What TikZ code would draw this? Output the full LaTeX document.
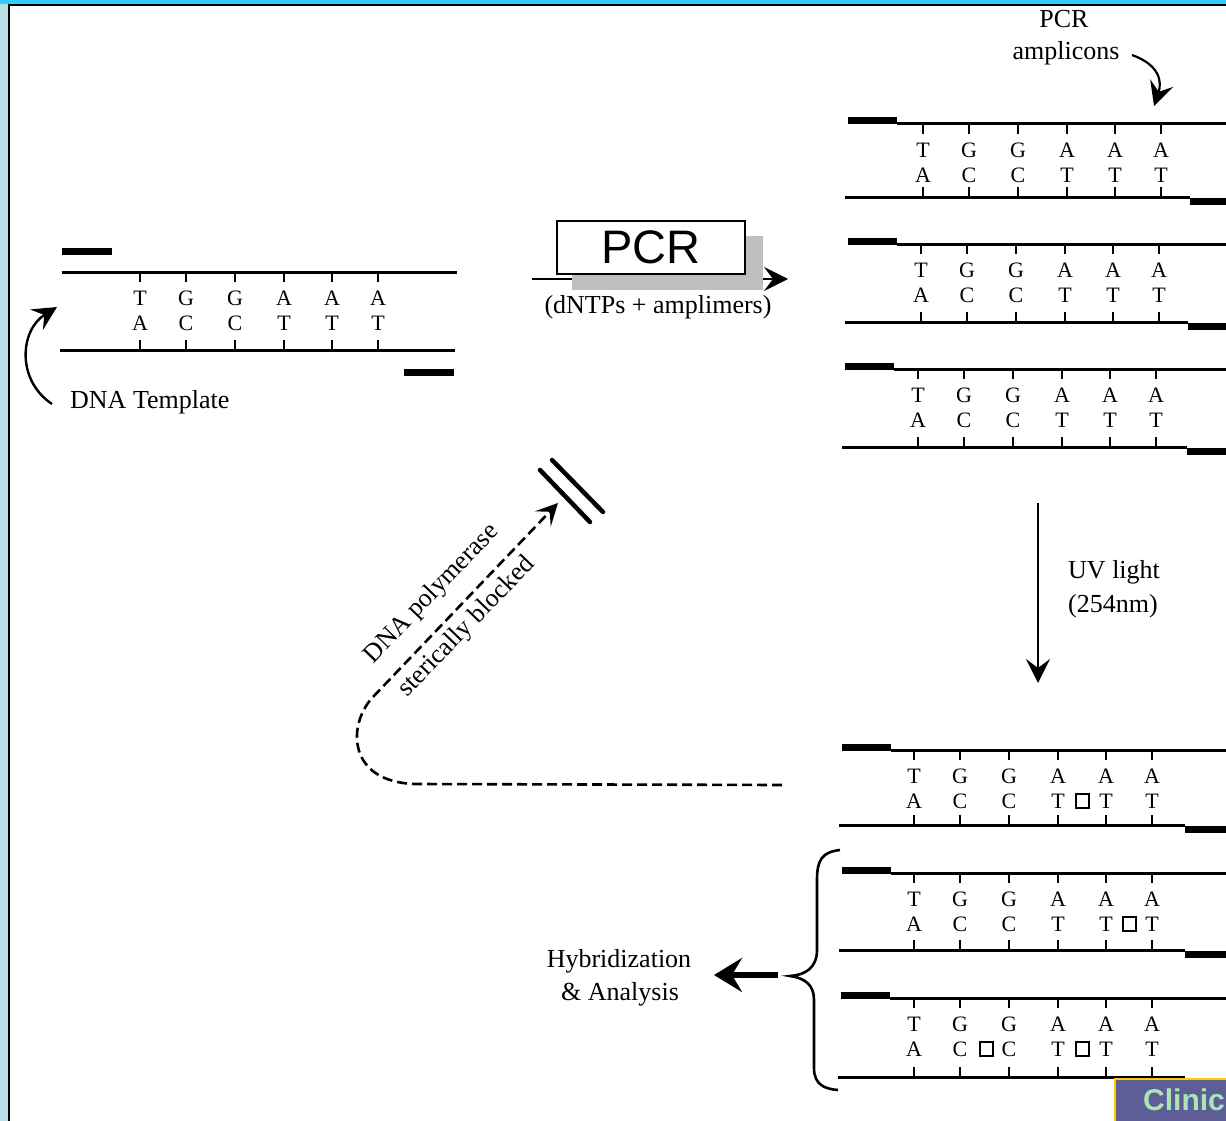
\documentclass[tikz,border=0pt]{standalone}
\usepackage{fontspec}
\setmainfont{Liberation Serif}
\setsansfont{Liberation Sans}
\usetikzlibrary{arrows.meta}
\definecolor{topcyan}{RGB}{51,204,255}
\definecolor{sideblue}{RGB}{184,224,230}
\definecolor{clinicbg}{RGB}{94,94,150}
\definecolor{clinicfg}{RGB}{170,230,180}
\definecolor{clinicedge}{RGB}{255,200,0}
\newcommand\bases[4]{%
  \foreach \dx/\tl/\bl [count=\i] in {0/T/A,46/G/C,95/G/C,144/A/T,192/A/T,238/A/T}{%
    \draw[basetick] (#2+\dx,#3) -- ++(0,10);
    \draw[basetick] (#2+\dx,#4) -- ++(0,-10);
    \node[baseletter] (#1t\i) at (#2+\dx,#3+26) {\tl};
    \node[baseletter] (#1b\i) at (#2+\dx,#3+51) {\bl};
  }%
}
\newcommand\amplicon[6]{%
  \draw[primer] (#2,#3-3) -- ++(49,0);
  \draw[strandline] (#2+49,#3) -- (1230,#3);
  \draw[strandline] (#2-3,#4) -- (#6,#4);
  \draw[primer] (#6,#4+4) -- (1230,#4+4);
  \bases{#1}{#5}{#3}{#4}%
}
\begin{document}
\begin{tikzpicture}[x=1pt,y=-1pt,
  strandline/.style={line width=3pt},
  primer/.style={line width=7pt},
  basetick/.style={line width=2pt},
  baseletter/.style={font=\fontsize{22}{22}\selectfont, inner sep=0pt, text height=15pt, text depth=0pt},
  lbl/.style={font=\fontsize{26}{30}\selectfont, inner sep=0pt},
  mutsq/.style={draw, line width=2pt, minimum width=13pt, minimum height=14pt, inner sep=0pt},
  arr/.style={line width=2.2pt, -{Stealth[length=24pt,width=24pt,inset=9pt]}},
]
\clip (0,0) rectangle (1226,1121);
% frame
\fill[white] (0,0) rectangle (1226,1121);
\fill[sideblue] (0,0) rectangle (8,1121);
\fill[topcyan] (0,0) rectangle (1226,4);
\fill[black] (8,4) rectangle (1226,6.5);
\fill[black] (7.5,4) rectangle (10,1121);

% DNA template
\draw[primer] (62,251) -- (112,251);
\draw[strandline] (62,272) -- (457,272);
\draw[strandline] (60,350) -- (455,350);
\draw[primer] (404,372) -- (454,372);
\bases{tp}{140}{272}{350}
\node[lbl, anchor=base west] (tmpl) at (70,408) {DNA Template};
\coordinate (tmA) at (52,404);
\coordinate (tmB) at (57,307);
\draw[arr, line width=2.4pt] (tmA) .. controls (16,380) and (20,330) .. (tmB);

% PCR step
\coordinate (pcrA) at (532,279);
\coordinate (pcrB) at (788,279);
\draw[arr] (pcrA) -- (pcrB);
\fill[gray!50] (572,236) rectangle (763,290);
\node[draw, line width=1.8pt, fill=white, minimum width=188pt, minimum height=53pt, inner sep=0pt,
  font=\sffamily\fontsize{47}{47}\selectfont] (pcr) at (651,247.5) {PCR};
\node[lbl, anchor=base] (dntp) at (658,313) {(dNTPs + amplimers)};

% amplicons
\node[lbl, anchor=base] (amp1) at (1064,28) {PCR};
\node[lbl, anchor=base] (amp2) at (1066,60) {amplicons};
\coordinate (ampA) at (1132,55);
\coordinate (ampB) at (1154,106);
\draw[arr] (ampA) .. controls (1160,65) and (1162,82) .. (ampB);
\amplicon{a1}{848}{124}{197}{923}{1190}
\amplicon{a2}{848}{244}{322}{921}{1188}
\amplicon{a3}{845}{369}{447}{918}{1187}

% UV
\coordinate (uvA) at (1038,503);
\coordinate (uvB) at (1038,683);
\draw[arr] (uvA) -- (uvB);
\node[lbl, anchor=base west] (uv1) at (1068,578) {UV light};
\node[lbl, anchor=base west] (uv2) at (1068,612) {(254nm)};

% damaged amplicons
\amplicon{u1}{842}{750}{825}{914}{1185}
\amplicon{u2}{842}{873}{950}{914}{1185}
\amplicon{u3}{841}{998}{1077}{914}{1185}
\node[mutsq] (sq1) at (1082,801) {};
\node[mutsq] (sq2) at (1129,924) {};
\node[mutsq] (sq3) at (986,1049) {};
\node[mutsq] (sq4) at (1082,1049) {};

% dashed blocked path
\coordinate (dsA) at (782,785);
\coordinate (dsB) at (415,784);
\coordinate (dsC) at (372,698);
\coordinate (dsD) at (558,503);
\draw[line width=2.6pt, dash pattern=on 10pt off 5pt, -{Stealth[length=22pt,width=22pt,inset=10pt]}]
  (dsA) -- (dsB) .. controls (348,782) and (347,726) .. (dsC) -- (dsD);
\coordinate (sl1a) at (540,470);
\coordinate (sl1b) at (590,522);
\coordinate (sl2a) at (552,460);
\coordinate (sl2b) at (603,512);
\draw[line width=4.5pt, line cap=round] (sl1a) -- (sl1b);
\draw[line width=4.5pt, line cap=round] (sl2a) -- (sl2b);
\node[lbl, rotate=46] (pol1) at (432,594) {DNA polymerase};
\node[lbl, rotate=46] (pol2) at (467,627) {sterically blocked};

% brace and hybridization
\draw[line width=2.6pt] (840,850) .. controls (822,852) and (817,860) .. (817,880) -- (817,950)
  .. controls (817,968) and (805,975) .. (790,976)
  .. controls (805,978) and (814,985) .. (814,1000) -- (814,1068)
  .. controls (814,1085) and (825,1089) .. (838,1090);
\coordinate (hyA) at (778,975);
\coordinate (hyB) at (714,975);
\draw[line width=6.5pt, -{Stealth[length=28pt,width=34pt,inset=10pt]}] (hyA) -- (hyB);
\node[lbl, anchor=base] (hyb1) at (619,967) {Hybridization};
\node[lbl, anchor=base] (hyb2) at (620,1000) {\& Analysis};

% corner label
\node[draw=clinicedge, fill=clinicbg, line width=2pt, anchor=north west, minimum width=125pt, minimum height=50pt, inner sep=0pt] (clinicbox) at (1114,1078) {};
\node[anchor=base west, font=\sffamily\bfseries\fontsize{30}{30}\selectfont, text=clinicfg, inner sep=0pt] (clinic) at (1143,1110) {Clinic};
\end{tikzpicture}
\end{document}
